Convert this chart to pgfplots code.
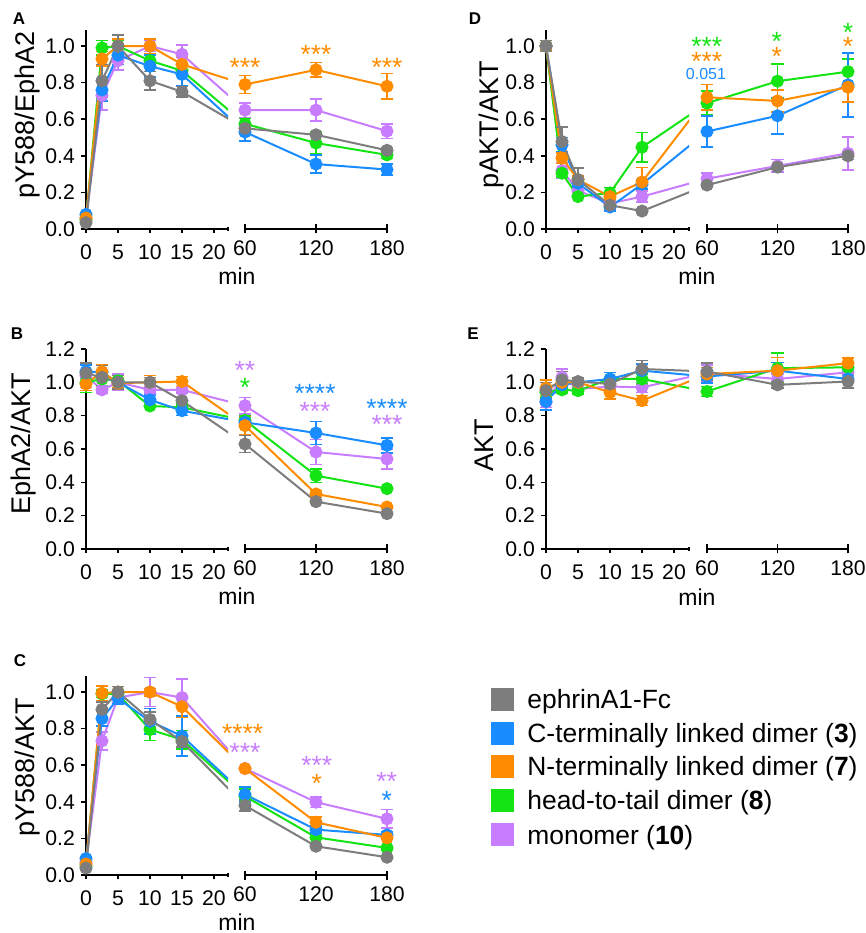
\documentclass[border=0pt]{standalone}
\usepackage{fontspec}
\setmainfont{Liberation Sans}
\usepackage{pgfplots}
\pgfplotsset{compat=1.18}

\definecolor{cgray}{RGB}{125,125,125}
\definecolor{cblue}{RGB}{25,140,255}
\definecolor{corange}{RGB}{255,140,0}
\definecolor{cgreen}{RGB}{20,228,20}
\definecolor{cpurple}{RGB}{200,125,255}

\pgfplotsset{
  every axis/.append style={
    scale only axis, clip=false, ymin=0,
    axis line style={line width=1pt, black},
    tick style={black, line width=0.8pt},
    tick label style={font=\fontsize{10.6}{12}\selectfont},
    ylabel style={font=\fontsize{13.5}{15}\selectfont, anchor=center},
    /pgf/number format/assume math mode=true,
  },
  ser/.style={color=#1, line width=1pt, mark=*, mark size=2.75pt,
    mark options={solid, fill=#1, draw=#1},
    error bars/.cd, y dir=both, y explicit,
    error bar style={line width=0.8pt, #1},
    error mark options={rotate=90, line width=0.8pt, mark size=3.2pt, #1}},
  brk/.style={color=#1, line width=1pt, no marks},
  lseg/.style={xmin=0, xmax=#1,
    axis x line*=bottom, axis y line*=left,
    xtick={0,5,10,15,20}, tick align=outside,
    xtick style={/pgfplots/major tick length=2pt},
    ytick style={/pgfplots/major tick length=2.5pt},
    extra x ticks={#1}, extra x tick labels={},
    extra x tick style={tick align=center, /pgfplots/major tick length=4.5pt},
    yticklabel style={xshift=2.2pt, /pgf/number format/.cd, fixed, fixed zerofill, precision=1}},
  rseg/.style={width=71pt, xmin=60, xmax=180,
    axis x line*=bottom, axis y line=none,
    xtick={60,120,180}, tick align=center, major tick length=4.5pt},
  eseg/.style={xmin=0, xmax=#1, hide axis, clip=true},
}
\tikzset{
  lab/.style={anchor=base, inner sep=0pt, font=\fontsize{11.5}{13}\selectfont},
  plet/.style={anchor=base, inner sep=0pt, font=\fontsize{8.5}{10}\selectfont\bfseries},
  st/.style={anchor=base, inner sep=0pt, text=#1, font=\fontsize{13.2}{15}\selectfont},
}

\begin{document}
\begin{tikzpicture}
\path[use as bounding box] (0,0) rectangle (433pt,466.5pt);

% ---------------- A: pY588/EphA2 ----------------
\begin{axis}[eseg=22.19, width=71pt, at={(43pt,352pt)}, height=99.7pt, ymax=1.09]
\addplot[brk=cpurple] coordinates {(15,0.955) (24.84,0.65)};
\addplot[brk=cgreen]  coordinates {(15,0.865) (24.84,0.575)};
\addplot[brk=cblue]   coordinates {(15,0.845) (24.84,0.53)};
\addplot[brk=corange] coordinates {(15,0.90) (24.84,0.79)};
\addplot[brk=cgray]   coordinates {(15,0.75) (24.84,0.55)};
\end{axis}
\begin{axis}[lseg=22.19, width=71pt, at={(43pt,352pt)}, height=99.7pt, ymax=1.09,
  ytick={0,0.2,0.4,0.6,0.8,1.0}, ylabel={pY588/EphA2},
  ylabel style={at={(axis description cs:-0.415,0.573)}}]
\addplot[ser=cpurple] coordinates {(0,0.06) +- (0,0.01) (2.5,0.73) +- (0,0.08) (5,0.92) +- (0,0.05) (10,1.0) +- (0,0.03) (15,0.955) +- (0,0.05)};
\addplot[ser=cgreen]  coordinates {(0,0.05) +- (0,0.01) (2.5,0.99) +- (0,0.04) (5,1.0) +- (0,0.03) (10,0.92) +- (0,0.03) (15,0.865) +- (0,0.03)};
\addplot[ser=cblue]   coordinates {(0,0.08) +- (0,0.01) (2.5,0.76) +- (0,0.06) (5,0.95) +- (0,0.05) (10,0.89) +- (0,0.06) (15,0.845) +- (0,0.06)};
\addplot[ser=corange] coordinates {(0,0.06) +- (0,0.01) (2.5,0.93) +- (0,0.04) (5,1.0) +- (0,0.04) (10,1.0) +- (0,0.04) (15,0.90) +- (0,0.04)};
\addplot[ser=cgray]   coordinates {(0,0.035) +- (0,0.01) (2.5,0.81) +- (0,0.09) (5,1.0) +- (0,0.06) (10,0.81) +- (0,0.05) (15,0.75) +- (0,0.03)};
\end{axis}
\begin{axis}[rseg, at={(122.5pt,352pt)}, height=99.7pt, ymax=1.09]
\addplot[ser=cpurple] coordinates {(60,0.65) +- (0,0.04) (120,0.65) +- (0,0.06) (180,0.535) +- (0,0.04)};
\addplot[ser=cgreen]  coordinates {(60,0.575) +- (0,0.03) (120,0.47) +- (0,0.06) (180,0.405) +- (0,0.02)};
\addplot[ser=cblue]   coordinates {(60,0.53) +- (0,0.05) (120,0.355) +- (0,0.05) (180,0.325) +- (0,0.03)};
\addplot[ser=corange] coordinates {(60,0.79) +- (0,0.05) (120,0.87) +- (0,0.04) (180,0.78) +- (0,0.07)};
\addplot[ser=cgray]   coordinates {(60,0.55) +- (0,0.03) (120,0.515) +- (0,0.01) (180,0.43) +- (0,0.015)};
\end{axis}
\node[plet] at (9.5pt,454pt) {A};
\node[lab] at (118.5pt,324pt) {min};
\node[st=corange] at (122.5pt,428pt) {***};
\node[st=corange] at (158pt,434.5pt) {***};
\node[st=corange] at (193.5pt,428.25pt) {***};

% ---------------- D: pAKT/AKT ----------------
\begin{axis}[eseg=22.34, width=71.5pt, at={(273pt,352pt)}, height=99.7pt, ymax=1.09]
\addplot[brk=cpurple] coordinates {(15,0.177) (25.16,0.275)};
\addplot[brk=cgreen]  coordinates {(15,0.447) (25.16,0.688)};
\addplot[brk=cblue]   coordinates {(15,0.245) (25.16,0.533)};
\addplot[brk=corange] coordinates {(15,0.257) (25.16,0.72)};
\addplot[brk=cgray]   coordinates {(15,0.098) (25.16,0.24)};
\end{axis}
\begin{axis}[lseg=22.34, width=71.5pt, at={(273pt,352pt)}, height=99.7pt, ymax=1.09,
  ytick={0,0.2,0.4,0.6,0.8,1.0}, ylabel={pAKT/AKT},
  ylabel style={at={(axis description cs:-0.38,0.521)}}]
\addplot[ser=cpurple] coordinates {(0,1.0) +- (0,0.03) (2.5,0.32) +- (0,0.04) (5,0.21) +- (0,0.02) (10,0.14) +- (0,0.01) (15,0.177) +- (0,0.03)};
\addplot[ser=cgreen]  coordinates {(0,1.0) +- (0,0.02) (2.5,0.305) +- (0,0.02) (5,0.177) +- (0,0.01) (10,0.197) +- (0,0.03) (15,0.447) +- (0,0.08)};
\addplot[ser=cblue]   coordinates {(0,1.0) +- (0,0.02) (2.5,0.46) +- (0,0.04) (5,0.25) +- (0,0.02) (10,0.12) +- (0,0.02) (15,0.245) +- (0,0.025)};
\addplot[ser=corange] coordinates {(0,1.0) +- (0,0.02) (2.5,0.387) +- (0,0.03) (5,0.27) +- (0,0.02) (10,0.177) +- (0,0.02) (15,0.257) +- (0,0.08)};
\addplot[ser=cgray]   coordinates {(0,1.0) +- (0,0.03) (2.5,0.478) +- (0,0.08) (5,0.27) +- (0,0.065) (10,0.13) +- (0,0.02) (15,0.098) +- (0,0.01)};
\end{axis}
\begin{axis}[rseg, width=70.5pt, at={(353.5pt,352pt)}, height=99.7pt, ymax=1.09]
\addplot[ser=cpurple] coordinates {(60,0.275) +- (0,0.03) (120,0.345) +- (0,0.035) (180,0.414) +- (0,0.09)};
\addplot[ser=cgreen]  coordinates {(60,0.688) +- (0,0.065) (120,0.808) +- (0,0.095) (180,0.86) +- (0,0.07)};
\addplot[ser=cblue]   coordinates {(60,0.533) +- (0,0.085) (120,0.619) +- (0,0.10) (180,0.788) +- (0,0.175)};
\addplot[ser=corange] coordinates {(60,0.72) +- (0,0.07) (120,0.70) +- (0,0.06) (180,0.775) +- (0,0.08)};
\addplot[ser=cgray]   coordinates {(60,0.24) +- (0,0.01) (120,0.338) +- (0,0.01) (180,0.40) +- (0,0.02)};
\end{axis}
\node[plet] at (237.5pt,454pt) {D};
\node[lab] at (348.5pt,324pt) {min};
\node[st=cgreen]  at (353.35pt,438.5pt) {***};
\node[st=corange] at (353.35pt,431pt) {***};
\node[anchor=center, inner sep=0pt, text=cblue, font=\fontsize{8}{10}\selectfont] at (353pt,429.5pt) {0.051};
\node[st=cgreen]  at (388.35pt,441pt) {*};
\node[st=corange] at (388.35pt,433.5pt) {*};
\node[st=cgreen]  at (424pt,445.65pt) {*};
\node[st=corange] at (424pt,438.5pt) {*};

% ---------------- B: EphA2/AKT ----------------
\begin{axis}[eseg=22.19, width=71pt, at={(43pt,192pt)}, height=100pt, ymax=1.2]
\addplot[brk=cpurple] coordinates {(15,0.955) (24.84,0.86)};
\addplot[brk=cgreen]  coordinates {(15,0.85) (24.84,0.772)};
\addplot[brk=cblue]   coordinates {(15,0.83) (24.84,0.76)};
\addplot[brk=corange] coordinates {(15,1.005) (24.84,0.74)};
\addplot[brk=cgray]   coordinates {(15,0.89) (24.84,0.63)};
\end{axis}
\begin{axis}[lseg=22.19, width=71pt, at={(43pt,192pt)}, height=100pt, ymax=1.2,
  ytick={0,0.2,0.4,0.6,0.8,1.0,1.2}, ylabel={EphA2/AKT},
  ylabel style={at={(axis description cs:-0.44,0.525)}}]
\addplot[ser=cpurple] coordinates {(0,1.04) +- (0,0.07) (2.5,0.955) +- (0,0.02) (5,1.0) +- (0,0.05) (10,0.955) +- (0,0.02) (15,0.955) +- (0,0.02)};
\addplot[ser=cgreen]  coordinates {(0,1.0) +- (0,0.06) (2.5,1.02) +- (0,0.04) (5,1.01) +- (0,0.03) (10,0.858) +- (0,0.01) (15,0.85) +- (0,0.02)};
\addplot[ser=cblue]   coordinates {(0,1.065) +- (0,0.04) (2.5,1.06) +- (0,0.04) (5,1.0) +- (0,0.03) (10,0.895) +- (0,0.03) (15,0.83) +- (0,0.03)};
\addplot[ser=corange] coordinates {(0,0.99) +- (0,0.04) (2.5,1.064) +- (0,0.04) (5,0.995) +- (0,0.03) (10,1.0) +- (0,0.04) (15,1.005) +- (0,0.03)};
\addplot[ser=cgray]   coordinates {(0,1.055) +- (0,0.06) (2.5,1.03) +- (0,0.07) (5,1.0) +- (0,0.04) (10,1.0) +- (0,0.03) (15,0.89) +- (0,0.05)};
\end{axis}
\begin{axis}[rseg, at={(122.5pt,192pt)}, height=100pt, ymax=1.2]
\addplot[ser=cpurple] coordinates {(60,0.86) +- (0,0.05) (120,0.582) +- (0,0.075) (180,0.54) +- (0,0.06)};
\addplot[ser=cgreen]  coordinates {(60,0.772) +- (0,0.03) (120,0.44) +- (0,0.04) (180,0.362) +- (0,0.01)};
\addplot[ser=cblue]   coordinates {(60,0.76) +- (0,0.03) (120,0.696) +- (0,0.07) (180,0.622) +- (0,0.045)};
\addplot[ser=corange] coordinates {(60,0.74) +- (0,0.055) (120,0.33) +- (0,0.02) (180,0.252) +- (0,0.01)};
\addplot[ser=cgray]   coordinates {(60,0.63) +- (0,0.05) (120,0.284) +- (0,0.01) (180,0.212) +- (0,0.01)};
\end{axis}
\node[plet] at (8.5pt,296.5pt) {B};
\node[lab] at (118.5pt,164pt) {min};
\node[st=cpurple] at (122.5pt,276.5pt) {**};
\node[st=cgreen]  at (122.5pt,268pt) {*};
\node[st=cblue]   at (157.5pt,265.25pt) {****};
\node[st=cpurple] at (157.5pt,256pt) {***};
\node[st=cblue]   at (193.5pt,257.75pt) {****};
\node[st=cpurple] at (193.5pt,249.5pt) {***};

% ---------------- E: AKT ----------------
\begin{axis}[eseg=22.34, width=71.5pt, at={(273pt,192pt)}, height=100pt, ymax=1.2]
\addplot[brk=cpurple] coordinates {(15,0.97) (25.16,1.055)};
\addplot[brk=cgreen]  coordinates {(15,1.02) (25.16,0.945)};
\addplot[brk=cblue]   coordinates {(15,1.07) (25.16,1.035)};
\addplot[brk=corange] coordinates {(15,0.89) (25.16,1.05)};
\addplot[brk=cgray]   coordinates {(15,1.08) (25.16,1.065)};
\end{axis}
\begin{axis}[lseg=22.34, width=71.5pt, at={(273pt,192pt)}, height=100pt, ymax=1.2,
  ytick={0,0.2,0.4,0.6,0.8,1.0,1.2}, ylabel={AKT},
  ylabel style={at={(axis description cs:-0.43,0.52)}}]
\addplot[ser=cpurple] coordinates {(0,0.88) +- (0,0.03) (2.5,1.03) +- (0,0.05) (5,0.96) +- (0,0.02) (10,0.975) +- (0,0.03) (15,0.97) +- (0,0.03)};
\addplot[ser=cgreen]  coordinates {(0,0.94) +- (0,0.03) (2.5,0.955) +- (0,0.02) (5,0.95) +- (0,0.02) (10,1.02) +- (0,0.04) (15,1.02) +- (0,0.03)};
\addplot[ser=cblue]   coordinates {(0,0.885) +- (0,0.05) (2.5,0.985) +- (0,0.03) (5,1.0) +- (0,0.02) (10,1.02) +- (0,0.04) (15,1.07) +- (0,0.04)};
\addplot[ser=corange] coordinates {(0,0.965) +- (0,0.05) (2.5,1.0) +- (0,0.03) (5,1.0) +- (0,0.03) (10,0.94) +- (0,0.04) (15,0.89) +- (0,0.03)};
\addplot[ser=cgray]   coordinates {(0,0.95) +- (0,0.05) (2.5,1.015) +- (0,0.05) (5,1.005) +- (0,0.02) (10,0.99) +- (0,0.03) (15,1.08) +- (0,0.05)};
\end{axis}
\begin{axis}[rseg, width=70.5pt, at={(353.5pt,192pt)}, height=100pt, ymax=1.2]
\addplot[ser=cpurple] coordinates {(60,1.055) +- (0,0.05) (120,1.02) +- (0,0.03) (180,1.06) +- (0,0.03)};
\addplot[ser=cgreen]  coordinates {(60,0.945) +- (0,0.03) (120,1.085) +- (0,0.09) (180,1.09) +- (0,0.03)};
\addplot[ser=cblue]   coordinates {(60,1.035) +- (0,0.04) (120,1.07) +- (0,0.05) (180,1.02) +- (0,0.05)};
\addplot[ser=corange] coordinates {(60,1.05) +- (0,0.04) (120,1.07) +- (0,0.08) (180,1.115) +- (0,0.03)};
\addplot[ser=cgray]   coordinates {(60,1.065) +- (0,0.05) (120,0.985) +- (0,0.02) (180,1.005) +- (0,0.04)};
\end{axis}
\node[plet] at (236.5pt,296.5pt) {E};
\node[lab] at (348.5pt,163.75pt) {min};

% ---------------- C: pY588/AKT ----------------
\begin{axis}[eseg=22.19, width=71pt, at={(43pt,29pt)}, height=99.7pt, ymax=1.09]
\addplot[brk=cpurple] coordinates {(15,0.97) (24.84,0.582)};
\addplot[brk=cgreen]  coordinates {(15,0.74) (24.84,0.43)};
\addplot[brk=cblue]   coordinates {(15,0.76) (24.84,0.44)};
\addplot[brk=corange] coordinates {(15,0.92) (24.84,0.582)};
\addplot[brk=cgray]   coordinates {(15,0.73) (24.84,0.38)};
\end{axis}
\begin{axis}[lseg=22.19, width=71pt, at={(43pt,29pt)}, height=99.7pt, ymax=1.09,
  ytick={0,0.2,0.4,0.6,0.8,1.0}, ylabel={pY588/AKT},
  ylabel style={at={(axis description cs:-0.41,0.541)}}]
\addplot[ser=cpurple] coordinates {(0,0.07) +- (0,0.01) (2.5,0.733) +- (0,0.05) (5,0.97) +- (0,0.03) (10,1.0) +- (0,0.08) (15,0.97) +- (0,0.10)};
\addplot[ser=cgreen]  coordinates {(0,0.05) +- (0,0.01) (2.5,0.99) +- (0,0.02) (5,0.99) +- (0,0.02) (10,0.795) +- (0,0.06) (15,0.74) +- (0,0.05)};
\addplot[ser=cblue]   coordinates {(0,0.09) +- (0,0.01) (2.5,0.855) +- (0,0.04) (5,0.965) +- (0,0.03) (10,0.84) +- (0,0.07) (15,0.76) +- (0,0.11)};
\addplot[ser=corange] coordinates {(0,0.06) +- (0,0.01) (2.5,0.994) +- (0,0.04) (5,1.0) +- (0,0.03) (10,1.0) +- (0,0.02) (15,0.92) +- (0,0.06)};
\addplot[ser=cgray]   coordinates {(0,0.038) +- (0,0.01) (2.5,0.905) +- (0,0.04) (5,1.0) +- (0,0.03) (10,0.85) +- (0,0.04) (15,0.73) +- (0,0.03)};
\end{axis}
\begin{axis}[rseg, at={(122.5pt,29pt)}, height=99.7pt, ymax=1.09]
\addplot[ser=cpurple] coordinates {(60,0.582) +- (0,0.01) (120,0.398) +- (0,0.03) (180,0.307) +- (0,0.05)};
\addplot[ser=cgreen]  coordinates {(60,0.43) +- (0,0.04) (120,0.206) +- (0,0.01) (180,0.148) +- (0,0.01)};
\addplot[ser=cblue]   coordinates {(60,0.44) +- (0,0.04) (120,0.248) +- (0,0.02) (180,0.219) +- (0,0.015)};
\addplot[ser=corange] coordinates {(60,0.582) +- (0,0.01) (120,0.288) +- (0,0.03) (180,0.203) +- (0,0.01)};
\addplot[ser=cgray]   coordinates {(60,0.38) +- (0,0.03) (120,0.157) +- (0,0.01) (180,0.097) +- (0,0.01)};
\end{axis}
\node[plet] at (10pt,133pt) {C};
\node[lab] at (118.5pt,1.5pt) {min};
\node[st=corange] at (121.35pt,95pt) {****};
\node[st=cpurple] at (122.5pt,85.5pt) {***};
\node[st=cpurple] at (158.35pt,79pt) {***};
\node[st=corange] at (158.35pt,70pt) {*};
\node[st=cpurple] at (193.35pt,71pt) {**};
\node[st=cblue]   at (193.35pt,61.5pt) {*};

% ---------------- legend ----------------
\foreach \c/\y in {cgray/116.5, cblue/99.75, corange/83, cgreen/66, cpurple/49}
  \fill[\c] (245.5pt,\y pt-5.75pt) rectangle (257pt,\y pt+5.75pt);
\begin{scope}[every node/.style={anchor=base west, inner sep=0pt, font=\fontsize{13.2}{15}\selectfont}]
\node at (263.5pt,112pt) {ephrinA1-Fc};
\node at (263.5pt,95.25pt) {C-terminally linked dimer (\textbf{3})};
\node at (263.5pt,78.5pt) {N-terminally linked dimer (\textbf{7})};
\node at (263.5pt,61.5pt) {head-to-tail dimer (\textbf{8})};
\node at (263.5pt,44.5pt) {monomer (\textbf{10})};
\end{scope}
\end{tikzpicture}
\end{document}
